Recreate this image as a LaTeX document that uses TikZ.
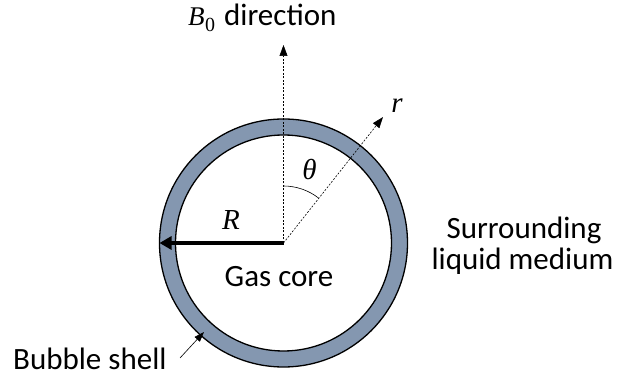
\documentclass[tikz,border=0pt]{standalone}
\usepackage{fontspec}
\setmainfont{Carlito}
\newfontfamily\symfont{Liberation Serif}
\usepackage{tikz}
\usetikzlibrary{arrows.meta,positioning,calc}
\definecolor{ink}{RGB}{0,0,0}
\definecolor{shell}{RGB}{132,151,176}

\begin{document}
\begin{tikzpicture}[x=1pt,y=1pt,
    lbl/.style={inner sep=0pt,text=ink,font=\fontsize{31}{31}\selectfont},
    sym/.style={inner sep=0pt,text=ink,font=\fontsize{29}{29}\selectfont\symfont\itshape},
    guide/.style={draw=ink,line width=0.6pt,dash pattern=on 2pt off 1.5pt,
      -{Triangle[length=11pt,width=8pt]}},
    pointer/.style={draw=ink,line width=0.6pt,-{Triangle[length=10pt,width=7pt]}}]
    \useasboundingbox (0,0) rectangle (621,377);
    % bubble
    \coordinate (O) at (283.5,134);
    \draw[ink,line width=1.3pt,fill=shell,even odd rule]
      (O) circle[radius=124] (O) circle[radius=108];
    \coordinate (Rend) at (159.5,134);
    \coordinate (Btip) at (283.5,332);
    \coordinate (rtip) at ($(O)+(51.7:160.5)$);
    % axes
    \draw[guide] (O) -- (Btip);
    \draw[guide] (O) -- (rtip);
    \draw[ink,line width=0.6pt] ($(O)+(90:57)$) arc[start angle=90,end angle=51.7,radius=57];
    \draw[ink,line width=3.5pt,-{Triangle[length=12pt,width=13pt]}] (O) -- (Rend);
    % labels
    \node[lbl,anchor=base west] (bdir) at (188,351.5)
      {{\symfont\fontsize{27}{27}\selectfont\itshape B\kern0.5pt\raisebox{-6.5pt}{\fontsize{20}{20}\selectfont\upshape 0}}\hspace{9pt}direction};
    \node[sym,anchor=base] (rlbl) at (397,264) {r};
    \node[sym,anchor=base] (thlbl) at (309.5,197) {θ};
    \node[sym,anchor=base] (Rlbl) at (231,147) {R};
    \node[lbl,anchor=base] (core) at (279,90) {Gas core};
    \node[lbl,anchor=base] (surr) at (524,138) {Surrounding};
    \node[lbl,anchor=base] (liq) at (522.5,107) {liquid medium};
    \node[lbl,anchor=base west] (shl) at (13,7) {Bubble shell};
    \coordinate (shtail) at (180,19);
    \coordinate (shtip) at (204,45);
    \draw[pointer] (shtail) -- (shtip);
\end{tikzpicture}
\end{document}
